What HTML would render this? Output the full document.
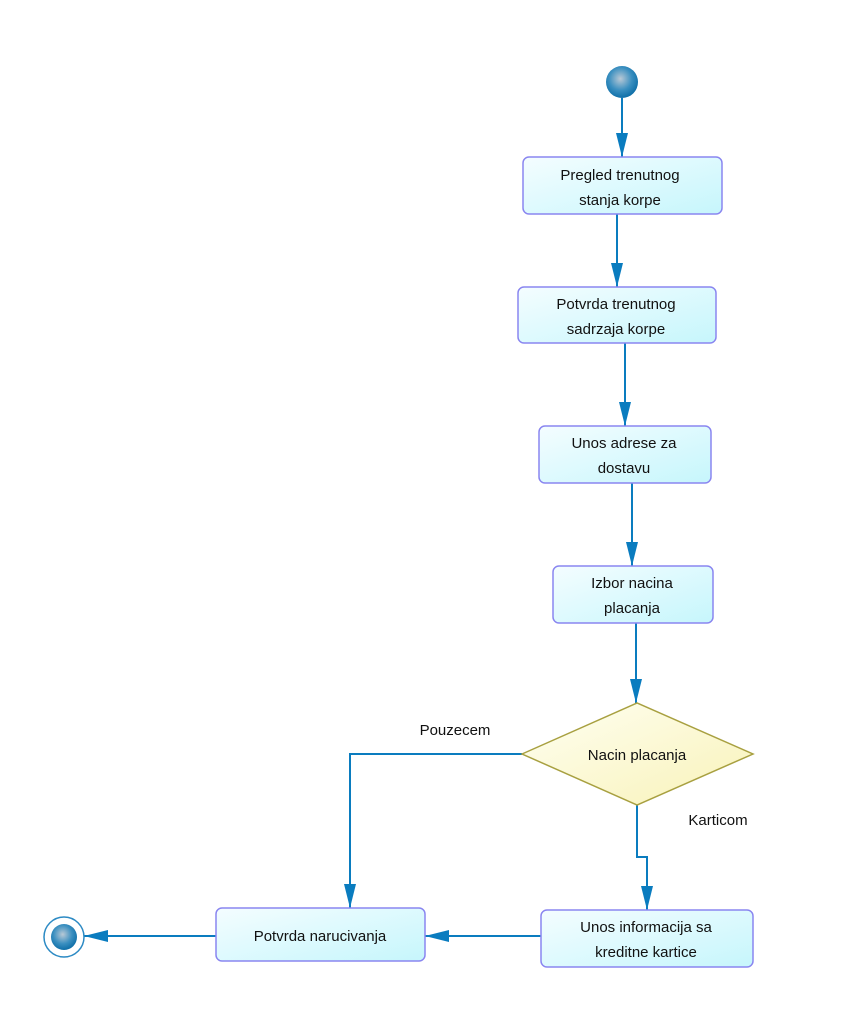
<!DOCTYPE html>
<html><head><meta charset="utf-8"><style>
html,body{margin:0;padding:0;background:#fff;}
svg{display:block;}
text{font-family:"Liberation Sans",Arial,sans-serif;font-size:15px;fill:#111;}
</style></head><body>
<svg width="850" height="1020" viewBox="0 0 850 1020" xmlns="http://www.w3.org/2000/svg">
<defs>
<linearGradient id="bx" x1="0" y1="0" x2="1" y2="1">
<stop offset="0" stop-color="#f4fdff"/><stop offset="1" stop-color="#c6f6fc"/>
</linearGradient>
<linearGradient id="dm" x1="0" y1="0" x2="1" y2="1">
<stop offset="0" stop-color="#fffff2"/><stop offset="1" stop-color="#f8f2b8"/>
</linearGradient>
<radialGradient id="ball" cx="0.45" cy="0.4" r="0.6">
<stop offset="0" stop-color="#b9c9d6"/><stop offset="0.6" stop-color="#3a8fc0"/><stop offset="1" stop-color="#0f6fa8"/>
</radialGradient>
<marker id="ar" markerWidth="24" markerHeight="12" refX="24" refY="6" orient="auto" markerUnits="userSpaceOnUse" viewBox="0 0 24 12">
<path d="M0,0 L24,6 L0,12 Z" fill="#0a7cbf"/>
</marker>
</defs>
<g stroke="#0a7cbf" stroke-width="2" fill="none">
<path d="M622 98 V157" marker-end="url(#ar)"/>
<path d="M617 214 V287" marker-end="url(#ar)"/>
<path d="M625 343 V426" marker-end="url(#ar)"/>
<path d="M632 483 V566" marker-end="url(#ar)"/>
<path d="M636 623 V703" marker-end="url(#ar)"/>
<path d="M522 754 H350 V908" marker-end="url(#ar)"/>
<path d="M637 805 V857 H647 V910" marker-end="url(#ar)"/>
<path d="M541 936 H425" marker-end="url(#ar)"/>
<path d="M216 936 H84" marker-end="url(#ar)"/>
</g>
<circle cx="622" cy="82" r="16" fill="url(#ball)"/>
<circle cx="64" cy="937" r="20" fill="#fff" stroke="#2c8ac4" stroke-width="1.5"/>
<circle cx="64" cy="937" r="13" fill="url(#ball)"/>
<g stroke="#8a86f0" stroke-width="1.5" fill="url(#bx)">
<rect x="523" y="157" width="199" height="57" rx="6"/>
<rect x="518" y="287" width="198" height="56" rx="6"/>
<rect x="539" y="426" width="172" height="57" rx="6"/>
<rect x="553" y="566" width="160" height="57" rx="6"/>
<rect x="541" y="910" width="212" height="57" rx="6"/>
<rect x="216" y="908" width="209" height="53" rx="6"/>
</g>
<polygon points="522,754 637,703 753,754 637,805" fill="url(#dm)" stroke="#a8a040" stroke-width="1.5"/>
<g text-anchor="middle">
<text x="620" y="180">Pregled trenutnog</text><text x="620" y="205">stanja korpe</text>
<text x="616" y="309">Potvrda trenutnog</text><text x="616" y="334">sadrzaja korpe</text>
<text x="624" y="448">Unos adrese za</text><text x="624" y="473">dostavu</text>
<text x="632" y="588">Izbor nacina</text><text x="632" y="613">placanja</text>
<text x="637" y="760">Nacin placanja</text>
<text x="646" y="932">Unos informacija sa</text><text x="646" y="957">kreditne kartice</text>
<text x="320" y="941">Potvrda narucivanja</text>
<text x="455" y="735">Pouzecem</text>
<text x="718" y="825">Karticom</text>
</g>
</svg>
</body></html>
